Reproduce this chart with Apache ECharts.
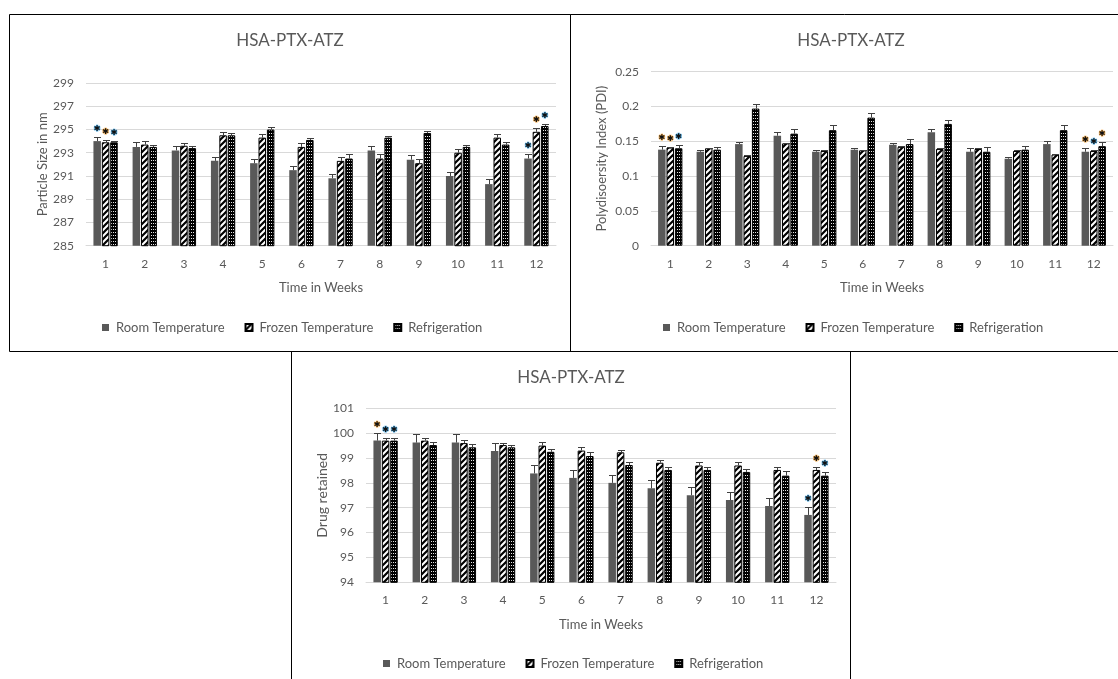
<!DOCTYPE html>
<html>
<head>
<meta charset="utf-8">
<script src="https://cdn.jsdelivr.net/npm/echarts@6/dist/echarts.min.js"></script>
<style>
html, body { margin: 0; padding: 0; background: #fff; }
#chart { width: 1118px; height: 679px; }
</style>
</head>
<body>
<div id="chart"></div>
<script>
// ---- data ----
const weeks = ['1', '2', '3', '4', '5', '6', '7', '8', '9', '10', '11', '12'];
const seriesNames = ['Room Temperature', 'Frozen Temperature', 'Refrigeration'];

// Particle size (nm)
const sizeRoom      = [294.0, 293.5, 293.2, 292.3, 292.1, 291.5, 290.8, 293.2, 292.4, 291.0, 290.3, 292.5];
const sizeFrozen    = [293.9, 293.7, 293.6, 294.5, 294.3, 293.5, 292.3, 292.5, 292.1, 293.0, 294.3, 294.8];
const sizeRefrig    = [293.9, 293.5, 293.4, 294.5, 295.0, 294.1, 292.5, 294.3, 294.7, 293.5, 293.7, 295.3];
const sizeRoomErr   = [0.37, 0.40, 0.40, 0.37, 0.40, 0.40, 0.40, 0.35, 0.37, 0.37, 0.43, 0.37];
const sizeFrozenErr = [0.20, 0.30, 0.25, 0.26, 0.30, 0.35, 0.30, 0.35, 0.35, 0.30, 0.30, 0.30];
const sizeRefrigErr = [0.15, 0.15, 0.15, 0.20, 0.20, 0.17, 0.35, 0.15, 0.17, 0.20, 0.20, 0.20];
const sizeTicks = { min: 285, max: 299, interval: 2 };

// Polydispersity index
const pdiRoom      = [0.138, 0.135, 0.146, 0.158, 0.135, 0.138, 0.145, 0.163, 0.135, 0.125, 0.146, 0.135];
const pdiFrozen    = [0.141, 0.140, 0.129, 0.147, 0.136, 0.137, 0.142, 0.139, 0.139, 0.136, 0.131, 0.136];
const pdiRefrig    = [0.140, 0.138, 0.197, 0.161, 0.166, 0.184, 0.146, 0.175, 0.135, 0.138, 0.166, 0.143];
const pdiRoomErr   = [0.005, 0.003, 0.003, 0.005, 0.003, 0.003, 0.003, 0.004, 0.005, 0.003, 0.004, 0.005];
const pdiFrozenErr = [0.001, 0.001, 0.001, 0.001, 0.002, 0.001, 0.0015, 0.001, 0.002, 0.001, 0.001, 0.0015];
const pdiRefrigErr = [0.005, 0.004, 0.006, 0.006, 0.007, 0.007, 0.007, 0.005, 0.007, 0.005, 0.007, 0.006];
const pdiTicks = { min: 0, max: 0.25, interval: 0.05 };

// Drug retained (%)
const drugRoom      = [99.7, 99.62, 99.62, 99.28, 98.38, 98.2, 98.0, 97.78, 97.5, 97.31, 97.07, 96.71];
const drugFrozen    = [99.7, 99.7, 99.6, 99.52, 99.5, 99.3, 99.23, 98.81, 98.7, 98.7, 98.52, 98.52];
const drugRefrig    = [99.7, 99.52, 99.43, 99.43, 99.25, 99.08, 98.72, 98.52, 98.52, 98.44, 98.29, 98.29];
const drugRoomErr   = [0.32, 0.33, 0.33, 0.33, 0.34, 0.33, 0.33, 0.33, 0.32, 0.32, 0.33, 0.31];
const drugFrozenErr = [0.12, 0.12, 0.13, 0.10, 0.14, 0.16, 0.10, 0.13, 0.15, 0.15, 0.13, 0.13];
const drugRefrigErr = [0.12, 0.13, 0.15, 0.10, 0.12, 0.17, 0.13, 0.13, 0.13, 0.13, 0.18, 0.16];
const drugTicks = { min: 94, max: 101, interval: 1 };

// significance marks: [week index, series index, halo colour key]
const sizeStars = [[0, 0, 'blue'], [0, 1, 'orange'], [0, 2, 'blue'], [11, 0, 'blue'], [11, 1, 'orange'], [11, 2, 'blue']];
const pdiStars  = [[0, 0, 'orange'], [0, 1, 'orange'], [0, 2, 'blue'], [11, 0, 'orange'], [11, 1, 'blue'], [11, 2, 'orange']];
const drugStars = [[0, 0, 'orange'], [0, 1, 'blue'], [0, 2, 'blue'], [11, 0, 'blue'], [11, 1, 'orange'], [11, 2, 'blue']];

// ---- styling ----
const FONT = 'Lato, "Open Sans", sans-serif';
const TEXT = '#595959';
const GRID_LINE = '#d9d9d9';
const HALO = { orange: '#f2a540', blue: '#42a5e0' };
const BAR_W = 7.5;
const BAR_GAP = 0.12;

function stripePattern() {
  const c = document.createElement('canvas');
  c.width = 6; c.height = 6;
  const g = c.getContext('2d');
  g.fillStyle = '#fff';
  g.fillRect(0, 0, 6, 6);
  g.strokeStyle = '#000';
  g.lineWidth = 2.2;
  g.beginPath();
  g.moveTo(-1, 7); g.lineTo(7, -1);
  g.moveTo(-1, 1); g.lineTo(1, -1);
  g.moveTo(5, 7); g.lineTo(7, 5);
  g.stroke();
  return c;
}
function dotPattern() {
  const c = document.createElement('canvas');
  c.width = 4; c.height = 3;
  const g = c.getContext('2d');
  g.fillStyle = '#000';
  g.fillRect(0, 0, 4, 3);
  g.fillStyle = '#e6e6e6';
  g.fillRect(1, 1, 1, 1);
  g.fillRect(3, 1, 1, 1);
  return c;
}
const barStyles = [
  { color: '#595959' },
  { color: { image: stripePattern(), repeat: 'repeat' }, borderColor: '#000', borderWidth: 1 },
  { color: { image: dotPattern(), repeat: 'repeat' }, borderColor: '#000', borderWidth: 1 }
];

// ---- panels ----
const panels = [
  { vals: [sizeRoom, sizeFrozen, sizeRefrig], errs: [sizeRoomErr, sizeFrozenErr, sizeRefrigErr],
    ticks: sizeTicks, stars: sizeStars, yName: 'Particle Size in nm', yNameSize: 13, yNameGap: 37,
    grid: { left: 86, top: 83, width: 470, height: 162.7 }, titleX: 290, titleY: 41,
    legend: { left: 102, top: 321 } },
  { vals: [pdiRoom, pdiFrozen, pdiRefrig], errs: [pdiRoomErr, pdiFrozenErr, pdiRefrigErr],
    ticks: pdiTicks, stars: pdiStars, yName: 'Polydisoersity Index (PDI)', yNameSize: 13, yNameGap: 43,
    grid: { left: 651, top: 71.7, width: 462, height: 174 }, titleX: 851, titleY: 41,
    legend: { left: 663, top: 321 } },
  { vals: [drugRoom, drugFrozen, drugRefrig], errs: [drugRoomErr, drugFrozenErr, drugRefrigErr],
    ticks: drugTicks, stars: drugStars, yName: 'Drug retained', yNameSize: 14, yNameGap: 37,
    grid: { left: 366, top: 408.3, width: 470, height: 174 }, titleX: 571, titleY: 378,
    legend: { left: 383, top: 657 } }
];

const grids = [], xAxes = [], yAxes = [], series = [], legends = [], graphics = [];

panels.forEach((p, pi) => {
  grids.push(Object.assign({ containLabel: false }, p.grid));
  xAxes.push({
    type: 'category', gridIndex: pi, data: weeks,
    name: 'Time in Weeks', nameLocation: 'middle', nameGap: 36,
    nameTextStyle: { color: TEXT, fontFamily: FONT, fontSize: 13 },
    axisLine: { lineStyle: { color: GRID_LINE } },
    axisTick: { show: false },
    axisLabel: { color: TEXT, fontFamily: FONT, fontSize: 12, margin: 12 }
  });
  yAxes.push({
    type: 'value', gridIndex: pi,
    min: p.ticks.min, max: p.ticks.max, interval: p.ticks.interval,
    name: p.yName, nameLocation: 'middle', nameGap: p.yNameGap,
    nameTextStyle: { color: TEXT, fontFamily: FONT, fontSize: p.yNameSize },
    axisLine: { show: false }, axisTick: { show: false },
    axisLabel: { color: TEXT, fontFamily: FONT, fontSize: 12, margin: 12 },
    splitLine: { lineStyle: { color: GRID_LINE } }
  });
  p.vals.forEach((v, si) => {
    series.push({
      type: 'bar', name: seriesNames[si], xAxisIndex: pi, yAxisIndex: pi,
      data: v, barWidth: BAR_W, barGap: (BAR_GAP * 100) + '%',
      itemStyle: barStyles[si], emphasis: { disabled: true }, animation: false
    });
  });

  // error bars (plus direction) drawn over the bars
  const errData = [];
  p.vals.forEach((v, si) => v.forEach((val, ci) => errData.push([ci, val, p.errs[si][ci], si])));
  series.push({
    type: 'custom', xAxisIndex: pi, yAxisIndex: pi, data: errData, z: 5, animation: false,
    silent: true,
    renderItem: (params, api) => {
      const ci = api.value(0), val = api.value(1), err = api.value(2), si = api.value(3);
      const dx = (si - 1) * BAR_W * (1 + BAR_GAP);
      const base = api.coord([ci, val]);
      const top = api.coord([ci, val + err]);
      const x = Math.round(base[0] + dx) + 0.5;
      const y1 = base[1], y2 = Math.round(top[1]) + 0.5;
      const style = { stroke: '#404040', lineWidth: 1 };
      return { type: 'group', children: [
        { type: 'line', shape: { x1: x, y1: y1, x2: x, y2: y2 }, style },
        { type: 'line', shape: { x1: x - 3.5, y1: y2, x2: x + 3.5, y2: y2 }, style }
      ] };
    }
  });

  // significance asterisks above the error caps
  const starData = p.stars.map(s => [s[0], s[1], s[2] === 'orange' ? 0 : 1]);
  series.push({
    type: 'custom', xAxisIndex: pi, yAxisIndex: pi, data: starData, z: 6, animation: false,
    silent: true,
    renderItem: (params, api) => {
      const ci = api.value(0), si = api.value(1), halo = api.value(2) === 0 ? HALO.orange : HALO.blue;
      const val = p.vals[si][ci] + p.errs[si][ci];
      const pt = api.coord([ci, val]);
      const dx = (si - 1) * BAR_W * (1 + BAR_GAP);
      return { type: 'text', x: pt[0] + dx, y: pt[1] - 8,
        style: { text: '✱', x: 0, y: 0, align: 'center', verticalAlign: 'middle',
          font: 'bold 8px "DejaVu Sans"', fill: '#111', stroke: halo, lineWidth: 1 } };
    }
  });

  legends.push({
    data: seriesNames, left: p.legend.left, top: p.legend.top, padding: 0,
    itemWidth: 7, itemHeight: 7, itemGap: 20, icon: 'rect', selectedMode: false,
    textStyle: { color: TEXT, fontFamily: FONT, fontSize: 13, padding: [0, 0, 0, 2] }
  });

  graphics.push({ type: 'text', x: p.titleX, y: p.titleY, silent: true,
    style: { text: 'HSA-PTX-ATZ', align: 'center', verticalAlign: 'middle',
      font: '17px ' + FONT, fill: TEXT } });
});

// panel frames
const frames = [
  [9.5, 14.5, 561, 337],
  [570.5, 14.5, 560, 337],
  [291.5, 351.5, 559, 340]
];
frames.forEach(f => graphics.push({ type: 'rect', silent: true, z: -1,
  shape: { x: f[0], y: f[1], width: f[2], height: f[3] },
  style: { fill: 'none', stroke: '#000', lineWidth: 1 } }));

const chart = echarts.init(document.getElementById('chart'), null, { renderer: 'canvas' });
chart.setOption({
  backgroundColor: '#fff',
  animation: false,
  grid: grids, xAxis: xAxes, yAxis: yAxes, legend: legends,
  series: series, graphic: graphics
});
</script>
</body>
</html>
